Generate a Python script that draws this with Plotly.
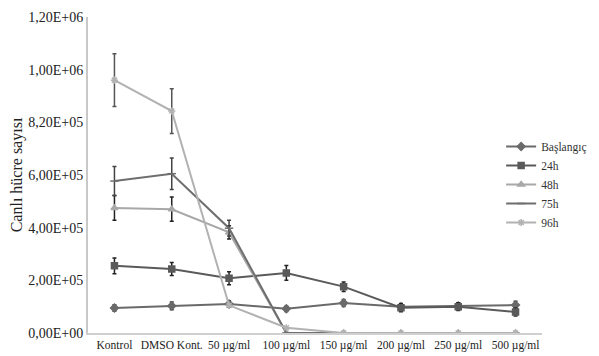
import plotly.graph_objects as go

categories = ["Kontrol", "DMSO Kont.", "50 µg/ml", "100 µg/ml", "150 µg/ml",
              "200 µg/ml", "250 µg/ml", "500 µg/ml"]

baslangic = [0.95e5, 1.03e5, 1.10e5, 0.92e5, 1.14e5, 1.00e5, 1.03e5, 1.06e5]
baslangic_err = [1.2e4, 1.5e4, 1.2e4, 1.0e4, 1.3e4, 1.2e4, 1.2e4, 1.5e4]

h24 = [2.55e5, 2.43e5, 2.08e5, 2.28e5, 1.76e5, 0.96e5, 1.00e5, 0.80e5]
h24_err = [3.0e4, 2.5e4, 2.5e4, 2.8e4, 1.8e4, 1.5e4, 1.5e4, 1.5e4]

h48 = [4.75e5, 4.70e5, 3.82e5, 0, 0, 0, 0, 0]
h48_err = [4.7e4, 4.6e4, 2.5e4, 0, 0, 0, 0, 0]

h75 = [5.77e5, 6.05e5, 3.98e5, 0, 0, 0, 0, 0]
h75_err = [5.5e4, 6.0e4, 3.0e4, 0, 0, 0, 0, 0]

h96 = [9.60e5, 8.43e5, 1.05e5, 2.0e4, 0, 0, 0, 0]
h96_err = [1.0e5, 8.5e4, 0, 0, 0, 0, 0, 0]

y_tickvals = [0, 2e5, 4e5, 6e5, 8e5, 1e6, 1.2e6]
y_ticktext = ["0,00E+00", "2,00E+05", "4,00E+05", "6,00E+05", "8,20E+05",
              "1,00E+06", "1,20E+06"]

FONT = "Liberation Serif"

series = [
    ("Başlangıç", baslangic, baslangic_err, "#6a6a6a", "diamond", 6, "#333333"),
    ("24h", h24, h24_err, "#5a5a5a", "square", 6, "#222222"),
    ("48h", h48, h48_err, "#a8a8a8", "triangle-up", 6, "#222222"),
    ("75h", h75, h75_err, "#6e6e6e", "line-ew", 6, "#444444"),
    ("96h", h96, h96_err, "#b2b2b2", "asterisk", 6, "#555555"),
]

fig = go.Figure()
for name, vals, err, color, sym, size, ecol in series:
    fig.add_trace(go.Scatter(
        x=categories, y=vals, name=name, mode="lines+markers",
        line=dict(color=color, width=2),
        marker=dict(symbol=sym, size=size, color=color,
                    line=dict(color=color, width=1.5)),
        error_y=dict(type="data", array=err, visible=True,
                     color=ecol, thickness=1.5, width=2),
    ))

# the page body adds an 8px offset; compensate in figure size/margins
fig.update_layout(
    width=591, height=348,
    margin=dict(l=80, r=57, t=9, b=23, autoexpand=False),
    paper_bgcolor="white", plot_bgcolor="white",
    font=dict(family=FONT, size=12, color="#222222"),
    showlegend=True,
    legend=dict(x=0.91, y=0.47, xanchor="left", yanchor="middle",
                font=dict(family=FONT, size=11.5, color="#333333"),
                itemwidth=30, tracegroupgap=0, bgcolor="rgba(255,255,255,0)"),
    xaxis=dict(showgrid=False, showline=True, linecolor="#d0d0d0", linewidth=2,
               ticks="", tickangle=0, automargin=False,
               tickfont=dict(family=FONT, size=11.5, color="#222222"),
               zeroline=False),
    yaxis=dict(range=[0, 1.2e6], tickvals=y_tickvals, ticktext=y_ticktext,
               showgrid=False, showline=True, linecolor="#c8c8c8", linewidth=2,
               ticks="", zeroline=False, automargin=False,
               tickfont=dict(family=FONT, size=14, color="#222222"),
               title=dict(text="Canlı hücre sayısı",
                          font=dict(family=FONT, size=16, color="#222222"),
                          standoff=4)),
)

fig.write_html("out.html")
